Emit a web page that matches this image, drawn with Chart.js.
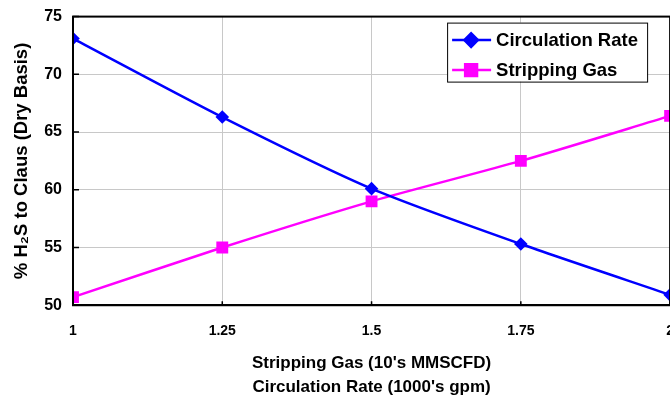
<!DOCTYPE html>
<html>
<head>
<meta charset="utf-8">
<script src="https://cdn.jsdelivr.net/npm/chart.js@4/dist/chart.umd.min.js"></script>
<style>
    html, body { margin: 0; padding: 0; background: #fff; overflow: hidden; }
    #wrap { width: 692px; height: 400px; position: relative; }
</style>
</head>
<body>
<div id="wrap"><canvas id="chart"></canvas></div>
<script>
const xValues = [1, 1.25, 1.5, 1.75, 2];
const circulationRate = [73.1, 66.3, 60.1, 55.3, 50.9];
const strippingGas = [50.7, 55.0, 59.0, 62.5, 66.4];
const yTicks = [50, 55, 60, 65, 70, 75];
const seriesNames = ['Circulation Rate', 'Stripping Gas'];
const xTitle = ["Stripping Gas (10's MMSCFD)", "Circulation Rate (1000's gpm)"];
const yTitle = '% H\u2082S to Claus (Dry Basis)';

const fontFamily = 'Arial, "Liberation Sans", sans-serif';

const toPoints = (values) => xValues.map((x, i) => ({ x: x, y: values[i] }));

// frame round the plot plus the small inner tick marks
const framePlugin = {
    id: 'frame',
    beforeDraw: (chart) => {
        const ctx = chart.ctx;
        ctx.save();
        ctx.fillStyle = '#fff';
        ctx.fillRect(0, 0, chart.width, chart.height);
        ctx.restore();
    },
    afterDatasetsDraw: (chart) => {
        const { ctx, chartArea: a, scales } = chart;
        ctx.save();
        ctx.strokeStyle = '#000';
        ctx.lineWidth = 2;
        ctx.strokeRect(a.left, a.top, a.right - a.left, a.bottom - a.top);
        ctx.lineWidth = 1.5;
        ctx.beginPath();
        xValues.forEach((v) => {
            const px = scales.x.getPixelForValue(v);
            ctx.moveTo(px, a.bottom);
            ctx.lineTo(px, a.bottom - 4);
        });
        yTicks.forEach((v) => {
            const py = scales.y.getPixelForValue(v);
            ctx.moveTo(a.left, py);
            ctx.lineTo(a.left + 6, py);
        });
        ctx.stroke();
        ctx.restore();
    }
};

// excel style legend box in the top right of the plot
const boxLegendPlugin = {
    id: 'boxLegend',
    afterDraw: (chart) => {
        const ctx = chart.ctx;
        const a = chart.chartArea;
        const boxW = 200, boxH = 59;
        const left = a.right - 223, top = a.top + 6;
        ctx.save();
        ctx.fillStyle = '#fff';
        ctx.fillRect(left, top, boxW, boxH);
        ctx.strokeStyle = '#000';
        ctx.lineWidth = 1;
        ctx.strokeRect(left + 0.5, top + 0.5, boxW, boxH);
        ctx.font = 'bold 18.5px ' + fontFamily;
        ctx.textBaseline = 'middle';
        chart.data.datasets.forEach((ds, i) => {
            const y = top + 17.5 + i * 30;
            ctx.strokeStyle = ds.borderColor;
            ctx.lineWidth = 2.5;
            ctx.beginPath();
            ctx.moveTo(left + 5, y);
            ctx.lineTo(left + 44, y);
            ctx.stroke();
            Chart.helpers.drawPoint(ctx, {
                pointStyle: ds.pointStyle,
                radius: ds.pointRadius,
                borderWidth: 1
            }, left + 24, y);
            ctx.fillStyle = ds.backgroundColor;
            ctx.fill();
            ctx.fillStyle = '#000';
            ctx.fillText(ds.label, left + 49, y + 1);
        });
        ctx.restore();
    }
};

const ctx = document.getElementById('chart').getContext('2d');
new Chart(ctx, {
    type: 'line',
    data: {
        datasets: [
            {
                label: seriesNames[0],
                data: toPoints(circulationRate),
                borderColor: '#0000ff',
                backgroundColor: '#0000ff',
                borderWidth: 2.5,
                pointStyle: 'rectRot',
                pointRadius: 6.8,
                pointBorderWidth: 0,
                tension: 0.25
            },
            {
                label: seriesNames[1],
                data: toPoints(strippingGas),
                borderColor: '#ff00ff',
                backgroundColor: '#ff00ff',
                borderWidth: 2.5,
                pointStyle: 'rect',
                pointRadius: 8.4,
                pointBorderWidth: 0,
                tension: 0.25
            }
        ]
    },
    options: {
        responsive: true,
        maintainAspectRatio: false,
        animation: false,
        layout: { padding: { left: 11, top: 11, right: 0, bottom: 0 } },
        plugins: {
            legend: { display: false },
            tooltip: { enabled: false }
        },
        scales: {
            x: {
                type: 'linear',
                min: 1,
                max: 2,
                afterBuildTicks: (scale) => { scale.ticks = xValues.map(v => ({ value: v })); },
                ticks: {
                    color: '#000',
                    padding: 18,
                    maxRotation: 0,
                    font: { family: fontFamily, size: 14, weight: 'bold' },
                    callback: (v) => String(v)
                },
                grid: { color: '#c8c8c8', lineWidth: 1, drawTicks: false },
                border: { color: '#000', width: 2 },
                title: {
                    display: true,
                    text: xTitle,
                    color: '#000',
                    font: { family: fontFamily, size: 17, weight: 'bold', lineHeight: 1.44 },
                    padding: { top: -7, bottom: 0 }
                }
            },
            y: {
                min: 50,
                max: 75,
                afterBuildTicks: (scale) => { scale.ticks = yTicks.map(v => ({ value: v })); },
                ticks: {
                    color: '#000',
                    padding: 11,
                    font: { family: fontFamily, size: 16, weight: 'bold', lineHeight: 0.7 }
                },
                grid: { color: '#c8c8c8', lineWidth: 1, drawTicks: false },
                border: { color: '#000', width: 2 },
                title: {
                    display: true,
                    text: yTitle,
                    color: '#000',
                    font: { family: fontFamily, size: 18.5, weight: 'bold' },
                    padding: { top: 0, bottom: 0 }
                }
            }
        }
    },
    plugins: [framePlugin, boxLegendPlugin]
});
</script>
</body>
</html>
